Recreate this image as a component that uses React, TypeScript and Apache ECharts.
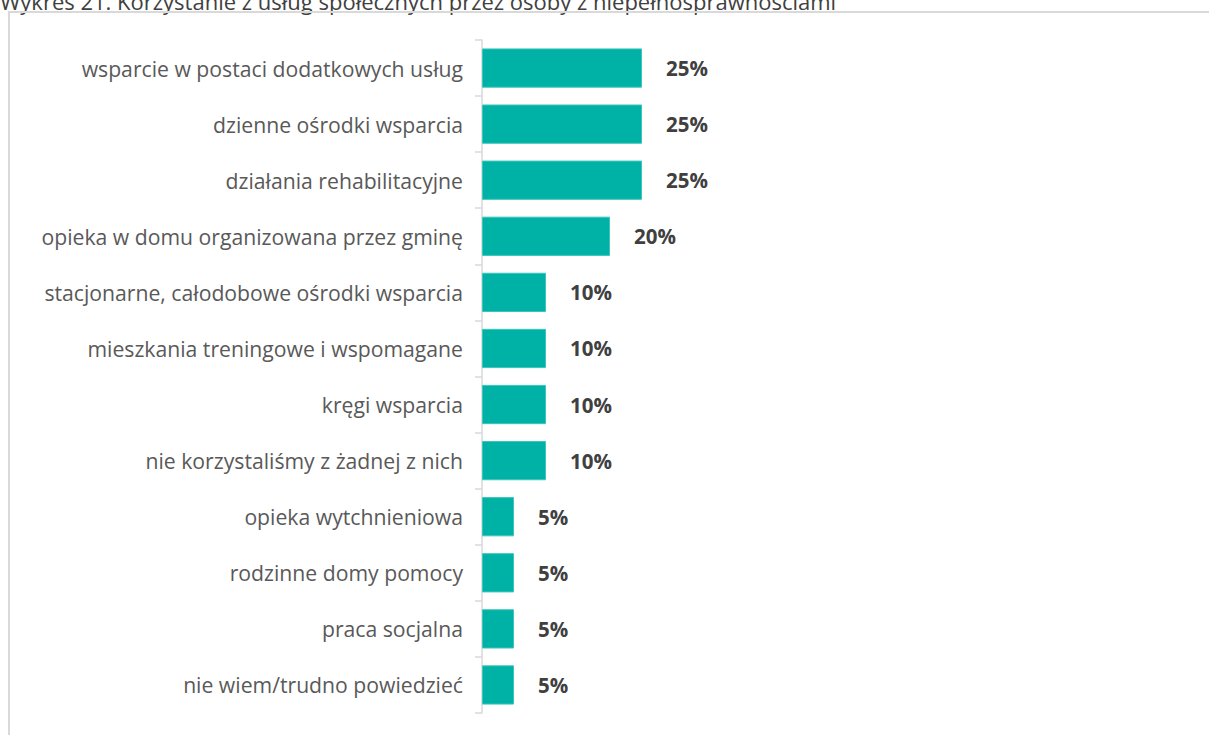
import React, { useEffect, useRef } from "react";
import * as echarts from "echarts";

const categories = [
  "wsparcie w postaci dodatkowych usług",
  "dzienne ośrodki wsparcia",
  "działania rehabilitacyjne",
  "opieka w domu organizowana przez gminę",
  "stacjonarne, całodobowe ośrodki wsparcia",
  "mieszkania treningowe i wspomagane",
  "kręgi wsparcia",
  "nie korzystaliśmy z żadnej z nich",
  "opieka wytchnieniowa",
  "rodzinne domy pomocy",
  "praca socjalna",
  "nie wiem/trudno powiedzieć",
];
const values = [25, 25, 25, 20, 10, 10, 10, 10, 5, 5, 5, 5];
const title = "Wykres 21. Korzystanie z usług społecznych przez osoby z niepełnosprawnościami";

const FONT = "'Open Sans', 'Noto Sans', sans-serif";

export default function App() {
  const ref = useRef<HTMLDivElement>(null);
  useEffect(() => {
    if (!ref.current) return;
    const chart = echarts.init(ref.current, undefined, { renderer: "svg" });
    chart.setOption({
      animation: false,
      backgroundColor: "#ffffff",
      graphic: [
        {
          type: "text",
          x: 0,
          y: 12,
          style: {
            text: title,
            fontFamily: FONT,
            fontSize: 22,
            fill: "#404040",
            verticalAlign: "bottom",
          },
        },
        {
          type: "rect",
          shape: { x: 8, y: 11, width: 1201, height: 2 },
          style: { fill: "#d9d9d9" },
        },
        {
          type: "rect",
          shape: { x: 8, y: 11, width: 2, height: 724 },
          style: { fill: "#d9d9d9" },
        },
      ],
      grid: { left: 482, top: 40, width: 160, height: 673, containLabel: false },
      xAxis: {
        type: "value",
        min: 0,
        max: 25,
        show: false,
      },
      yAxis: {
        type: "category",
        inverse: true,
        data: categories,
        axisLine: { show: true, lineStyle: { color: "#d9d9d9", width: 1.5 } },
        axisTick: { show: true, length: 7, alignWithLabel: false, lineStyle: { color: "#d9d9d9", width: 1.5 } },
        axisLabel: { fontFamily: FONT, fontSize: 21.2, color: "#595959", margin: 19 },
      },
      series: [
        {
          type: "bar",
          data: values,
          barWidth: "70%",
          itemStyle: { color: "#00b2a5", borderColor: "#3cc6bb", borderWidth: 1 },
          label: {
            show: true,
            position: "right",
            distance: 24,
            formatter: "{c}%",
            fontFamily: FONT,
            fontSize: 20.5,
            fontWeight: "bold",
            color: "#404040",
          },
        },
      ],
    });
    return () => chart.dispose();
  }, []);
  return (
    <div
      ref={ref}
      style={{ position: "fixed", left: 0, top: 0, width: 1209, height: 735 }}
    />
  );
}
